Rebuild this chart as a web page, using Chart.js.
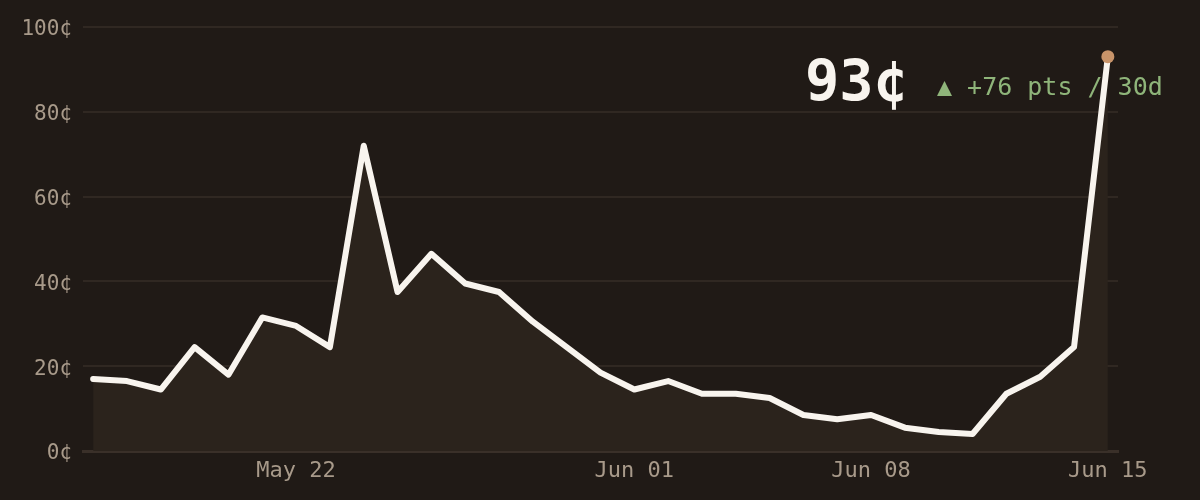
<!DOCTYPE html>
<html>
<head>
<meta charset="utf-8">
<script src="https://cdn.jsdelivr.net/npm/chart.js@4.4.1/dist/chart.umd.min.js"></script>
<style>
  html, body { margin: 0; padding: 0; background: #201a16; }
  #wrap { width: 1200px; height: 500px; position: relative; }
</style>
</head>
<body>
<div id="wrap"><canvas id="price-chart"></canvas></div>
<script>
// -------------------------
// DATA
// -------------------------
const days = [
  "May 16", "May 17", "May 18", "May 19", "May 20", "May 21", "May 22", "May 23",
  "May 24", "May 25", "May 26", "May 27", "May 28", "May 29", "May 30", "May 31",
  "Jun 01", "Jun 02", "Jun 03", "Jun 04", "Jun 05", "Jun 06", "Jun 07", "Jun 08",
  "Jun 09", "Jun 10", "Jun 11", "Jun 12", "Jun 13", "Jun 14", "Jun 15"
];
const cents = [
  17, 16.5, 14.5, 24.5, 18, 31.5, 29.5, 24.5, 72, 37.5, 46.5, 39.5, 37.5, 30.5, 24.5, 18.5,
  14.5, 16.5, 13.5, 13.5, 12.5, 8.5, 7.5, 8.5, 5.5, 4.5, 4, 13.5, 17.5, 24.5, 93
];
const xTickDays = ["May 22", "Jun 01", "Jun 08", "Jun 15"];
const yTicks = [0, 20, 40, 60, 80, 100];

// -------------------------
// Helpers
// -------------------------
const MONO = "'DejaVu Sans Mono', monospace";
const points = cents.map((v, i) => ({ x: i, y: v }));
const last = cents.length - 1;
const change = Math.round(cents[last] - cents[0]);

const bgPlugin = {
  id: 'bg',
  beforeDraw(chart) {
    const c = chart.ctx;
    c.save();
    c.fillStyle = '#201a16';
    c.fillRect(0, 0, chart.width, chart.height);
    c.restore();
  }
};

const headlinePlugin = {
  id: 'headline',
  afterDraw(chart) {
    const c = chart.ctx;
    c.save();
    c.textBaseline = 'alphabetic';
    c.textAlign = 'right';
    c.fillStyle = '#f8f4ee';
    c.font = `bold 57px ${MONO}`;
    c.fillText(`${cents[last]}¢`, 908, 101);
    c.textAlign = 'left';
    c.fillStyle = '#8fb57a';
    c.font = `25px ${MONO}`;
    c.fillText(`▲ +${change} pts / ${last}d`, 937, 95);
    c.restore();
  }
};

// -------------------------
// Chart.js
// -------------------------
new Chart(document.getElementById('price-chart').getContext('2d'), {
  type: 'line',
  data: {
    datasets: [{
      data: points,
      borderColor: '#f8f4ee',
      borderWidth: 6,
      backgroundColor: '#2b231c',
      fill: 'origin',
      tension: 0,
      borderJoinStyle: 'round',
      borderCapStyle: 'round',
      pointRadius: ctx => ctx.dataIndex === last ? 6.5 : 0,
      pointBackgroundColor: '#c8946a',
      pointBorderWidth: 0,
      pointHoverRadius: 0
    }]
  },
  options: {
    responsive: true,
    maintainAspectRatio: false,
    animation: false,
    layout: { padding: { top: 27, right: 82, left: 0, bottom: 0 } },
    plugins: { legend: { display: false }, tooltip: { enabled: false } },
    scales: {
      x: {
        type: 'linear',
        min: -0.3,
        max: last + 0.3,
        afterBuildTicks: s => { s.ticks = xTickDays.map(d => ({ value: days.indexOf(d) })); },
        afterFit: s => { s.height = 49; },
        grid: { display: false, drawTicks: false },
        border: { display: true, color: '#3a3029', width: 3 },
        ticks: {
          color: '#a89a8a',
          font: { family: MONO, size: 22 },
          padding: 7,
          maxRotation: 0,
          autoSkip: false,
          callback: v => days[v]
        }
      },
      y: {
        min: 0,
        max: 100,
        afterBuildTicks: s => { s.ticks = yTicks.map(v => ({ value: v })); },
        afterFit: s => { s.width = 83; },
        grid: { color: '#302822', lineWidth: 2, drawTicks: false },
        border: { display: false },
        ticks: {
          color: '#a89a8a',
          font: { family: MONO, size: 21, lineHeight: '6px' },
          padding: 11,
          // empty first line nudges each label a few px down onto its grid line
          callback: v => ['', `${v}¢`]
        }
      }
    }
  },
  plugins: [bgPlugin, headlinePlugin]
});
</script>
</body>
</html>
